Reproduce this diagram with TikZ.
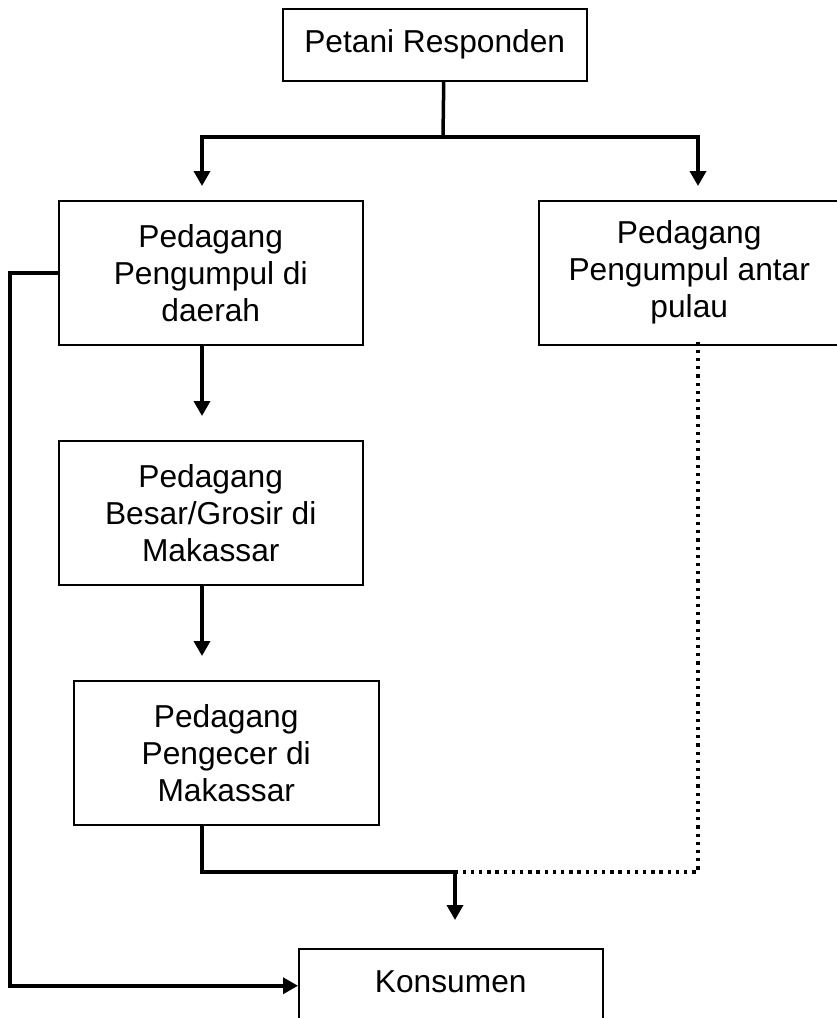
\documentclass[tikz,border=0pt]{standalone}
\usepackage{fontspec}
\setmainfont{Liberation Sans}
\usetikzlibrary{arrows.meta}
\begin{document}
\begin{tikzpicture}[x=1pt,y=-1pt,
  box/.style={draw, line width=1.5pt, rectangle, inner sep=0pt, align=center,
    anchor=north west, minimum width=304pt, minimum height=144pt,
    font=\fontsize{31.7}{37}\selectfont},
  conn/.style={line width=3.5pt},
  arr/.style={conn, -{Triangle[width=16pt,length=15pt]}},
  dotline/.style={line width=3.3pt, dash pattern=on 3.3pt off 4.9pt}]
\useasboundingbox (0,0) rectangle (836,1018);
% nodes
\node[box, minimum height=72pt] (petani) at (282,8) {Petani Responden};
\node[box] (daerah) at (58,200) {Pedagang\\Pengumpul di\\daerah};
\node[box, minimum width=301pt] (pulau) at (538,200) {Pedagang\\Pengumpul antar\\pulau};
\node[box] (besar) at (58,440) {Pedagang\\Besar/Grosir di\\Makassar};
\node[box, minimum width=305pt] (pengecer) at (73,680) {Pedagang\\Pengecer di\\Makassar};
\node[box, minimum height=74pt, text depth=9pt] (konsumen) at (298,948) {Konsumen};
% helper coordinates
\coordinate (colA) at (202,0);
\coordinate (colB) at (698,0);
\coordinate (split) at (443,137);
\coordinate (left) at (10,600);
\coordinate (merge) at (455,872);
% connectors
\draw[conn] ([xshift=9pt]petani.south) -- (split);
\draw[arr, shorten >=14pt] (split) -| (daerah.north -| colA);
\draw[arr, shorten >=14pt] (split) -| (pulau.north -| colB);
\draw[arr, shorten >=24pt] (daerah.south -| colA) -- (besar.north -| colA);
\draw[arr, shorten >=24pt] (besar.south -| colA) -- (pengecer.north -| colA);
\draw[conn] (pengecer.south -| colA) |- ([xshift=3pt]merge);
\draw[dotline] ([yshift=4pt]pulau.south -| colB) |- (merge);
\draw[arr, shorten >=28pt] (merge) -- (konsumen.north -| merge);
\draw[arr] (daerah.west) -| (left) |- (konsumen.west);
\end{tikzpicture}
\end{document}
